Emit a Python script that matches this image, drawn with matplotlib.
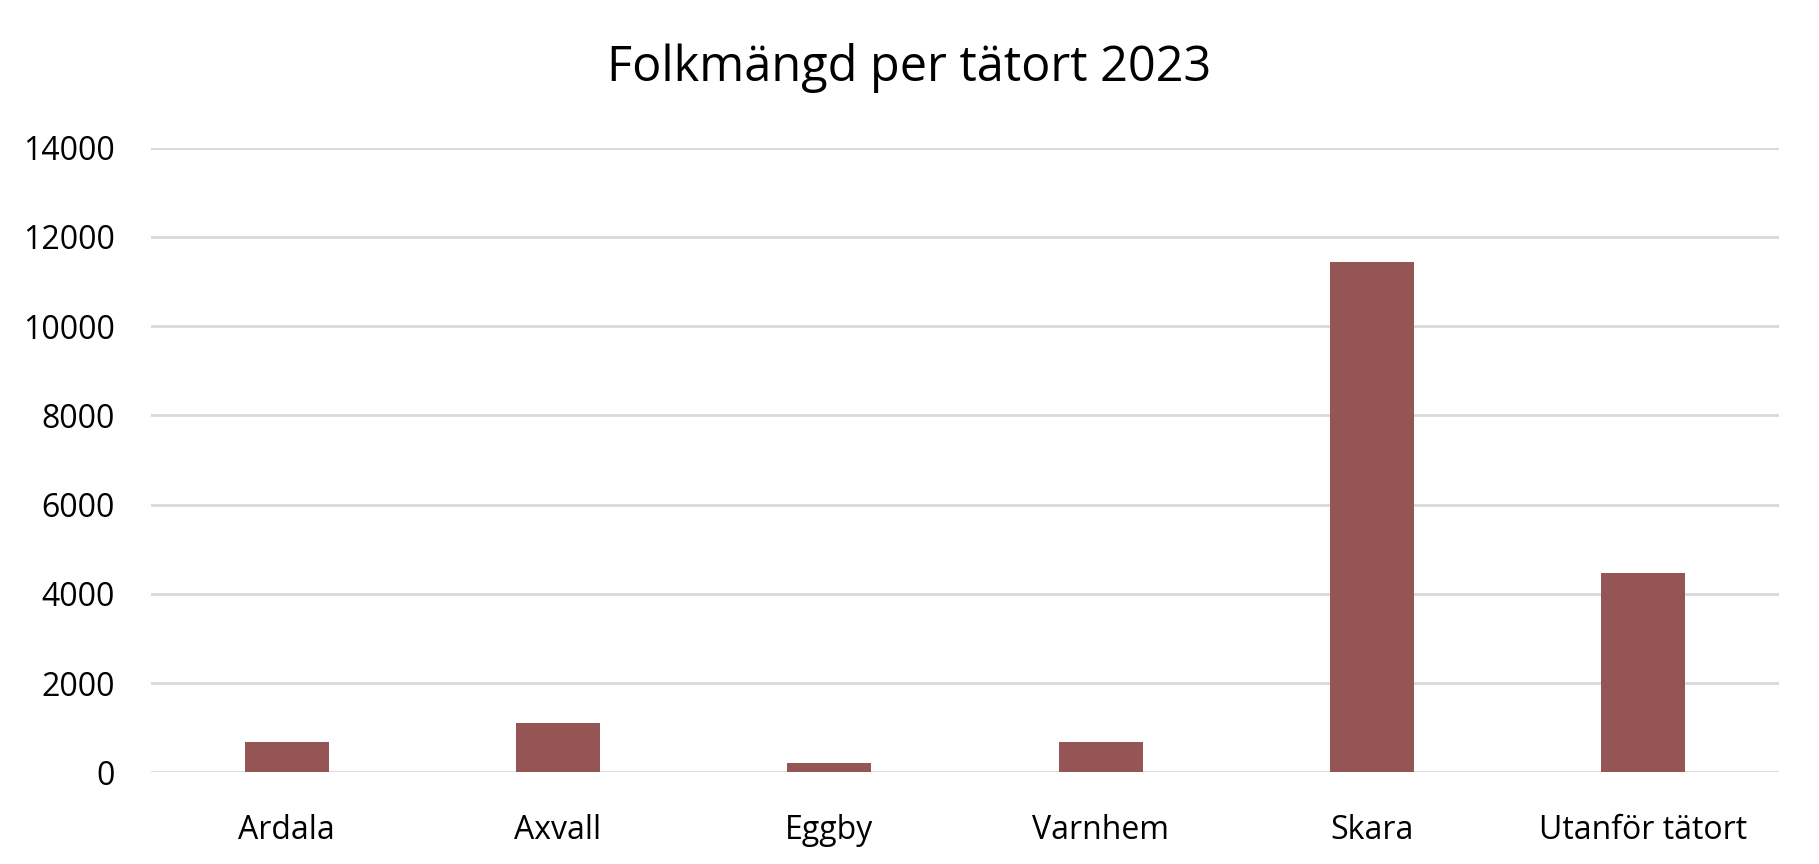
import matplotlib.pyplot as plt

# Folkmängd per tätort 2023
orter = ["Ardala", "Axvall", "Eggby", "Varnhem", "Skara", "Utanför tätort"]
folkmangd = [680, 1100, 200, 680, 11430, 4470]
y_ticks = [0, 2000, 4000, 6000, 8000, 10000, 12000, 14000]

BAR_COLOUR = "#955555"
GRID_COLOUR = "#d9d9d9"

plt.rcParams["font.family"] = ["Open Sans", "DejaVu Sans"]

fig = plt.figure(figsize=(18.19, 8.64), dpi=100)
ax = fig.add_axes([0.083, 0.106, 0.895, 0.723])

x = range(len(orter))
ax.bar(x, folkmangd, width=0.31, color=BAR_COLOUR, zorder=3)

ax.set_xlim(-0.5, len(orter) - 0.5)
ax.set_ylim(0, 14000)
ax.set_yticks(y_ticks)
ax.set_yticklabels([str(v) for v in y_ticks])
ax.set_xticks(list(x))
ax.set_xticklabels(orter)

ax.grid(axis="y", color=GRID_COLOUR, linewidth=2, zorder=0)
ax.set_axisbelow(True)
for side in ("top", "right", "left", "bottom"):
    ax.spines[side].set_visible(False)
ax.tick_params(axis="both", length=0, labelsize=23, colors="black")
ax.tick_params(axis="y", pad=26)
ax.tick_params(axis="x", pad=30)

fig.text(0.5, 0.921, "Folkmängd per tätort 2023", ha="center", va="center",
         fontsize=35)

fig.savefig("out.png", dpi=100)
